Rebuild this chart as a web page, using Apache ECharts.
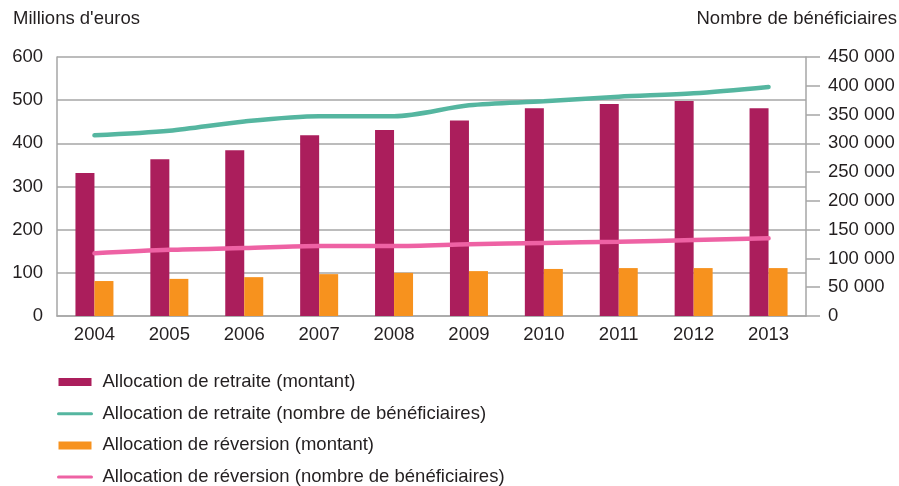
<!DOCTYPE html>
<html>
<head>
<meta charset="utf-8">
<script src="https://cdn.jsdelivr.net/npm/echarts@6/dist/echarts.min.js"></script>
<style>
  html, body { margin: 0; padding: 0; background: #fff; }
  #main { width: 899px; height: 486px; }
</style>
</head>
<body>
<div id="main"></div>
<script>
// données
var annees = ['2004', '2005', '2006', '2007', '2008', '2009', '2010', '2011', '2012', '2013'];
var retraiteMontant = [331, 363, 384, 419, 431, 453, 481, 491, 498, 481];
var reversionMontant = [81, 86, 90, 97, 100, 104, 109, 111, 111, 111];
var retraiteBenef = [314000, 322000, 338000, 347000, 347000, 366000, 373000, 381000, 387000, 398000];
var reversionBenef = [109000, 115000, 118000, 121500, 121500, 124500, 127000, 129000, 132000, 135000];

var police = '"Liberation Sans", Arial, sans-serif';
var gris = '#a6a6a6';
var noir = '#231f20';
var taille = 18.5;

var chart = echarts.init(document.getElementById('main'));
chart.setOption({
    textStyle: { fontFamily: police },
    title: [
        { text: "Millions d'euros", left: 8, top: 4,
          textStyle: { fontSize: taille, fontWeight: 'normal', color: noir, fontFamily: police } },
        { text: 'Nombre de bénéficiaires', right: -3, top: 4,
          textStyle: { fontSize: taille, fontWeight: 'normal', color: noir, fontFamily: police } }
    ],
    grid: { left: 57, right: 93, top: 57, bottom: 170 },
    legend: {
        orient: 'vertical',
        left: 52,
        top: 367,
        height: 125,
        itemWidth: 33,
        itemHeight: 8,
        itemGap: 11.7,
        textStyle: { fontSize: taille, color: noir, lineHeight: 20, padding: [0, 0, 0, 6] },
        data: [
            { name: 'Allocation de retraite (montant)', icon: 'rect' },
            { name: 'Allocation de retraite (nombre de bénéficiaires)', lineStyle: { width: 3 }, itemStyle: { opacity: 0 } },
            { name: 'Allocation de réversion (montant)', icon: 'rect' },
            { name: 'Allocation de réversion (nombre de bénéficiaires)', lineStyle: { width: 3 }, itemStyle: { opacity: 0 } }
        ]
    },
    xAxis: {
        type: 'category',
        data: annees,
        axisLine: { lineStyle: { color: gris, width: 1.5 } },
        axisTick: { inside: true, length: 5, lineStyle: { color: gris, width: 1.5 } },
        axisLabel: { fontSize: taille, color: noir, margin: 9 }
    },
    yAxis: [
        {
            type: 'value', min: 0, max: 600, interval: 100,
            axisLine: { show: true, lineStyle: { color: gris, width: 1.5 } },
            axisTick: { show: false },
            axisLabel: { fontSize: taille, color: noir, margin: 14 },
            splitLine: { lineStyle: { color: gris, width: 1.5 } }
        },
        {
            type: 'value', min: 0, max: 450000, interval: 50000,
            position: 'right',
            axisLine: { show: true, lineStyle: { color: gris, width: 1.5 } },
            axisTick: { show: true, length: 14, lineStyle: { color: gris, width: 1.5 } },
            axisLabel: {
                fontSize: taille, color: noir, margin: 22,
                formatter: function (v) {
                    return String(v).replace(/\B(?=(\d{3})+(?!\d))/g, ' ');
                }
            },
            splitLine: { show: false }
        }
    ],
    series: [
        {
            name: 'Allocation de retraite (montant)',
            type: 'bar', yAxisIndex: 0,
            barWidth: 19, barGap: '0%',
            itemStyle: { color: '#ab1e5c' },
            data: retraiteMontant
        },
        {
            name: 'Allocation de réversion (montant)',
            type: 'bar', yAxisIndex: 0,
            barWidth: 19, barGap: '0%',
            itemStyle: { color: '#f7921e' },
            data: reversionMontant
        },
        {
            name: 'Allocation de retraite (nombre de bénéficiaires)',
            type: 'line', yAxisIndex: 1,
            smooth: 0.3, symbol: 'none',
            lineStyle: { width: 4.5, color: '#55b6a0', cap: 'round' },
            itemStyle: { color: '#55b6a0' },
            data: retraiteBenef
        },
        {
            name: 'Allocation de réversion (nombre de bénéficiaires)',
            type: 'line', yAxisIndex: 1,
            smooth: 0.3, symbol: 'none',
            lineStyle: { width: 4.5, color: '#ee62a4', cap: 'round' },
            itemStyle: { color: '#ee62a4' },
            data: reversionBenef
        }
    ]
});
</script>
</body>
</html>
